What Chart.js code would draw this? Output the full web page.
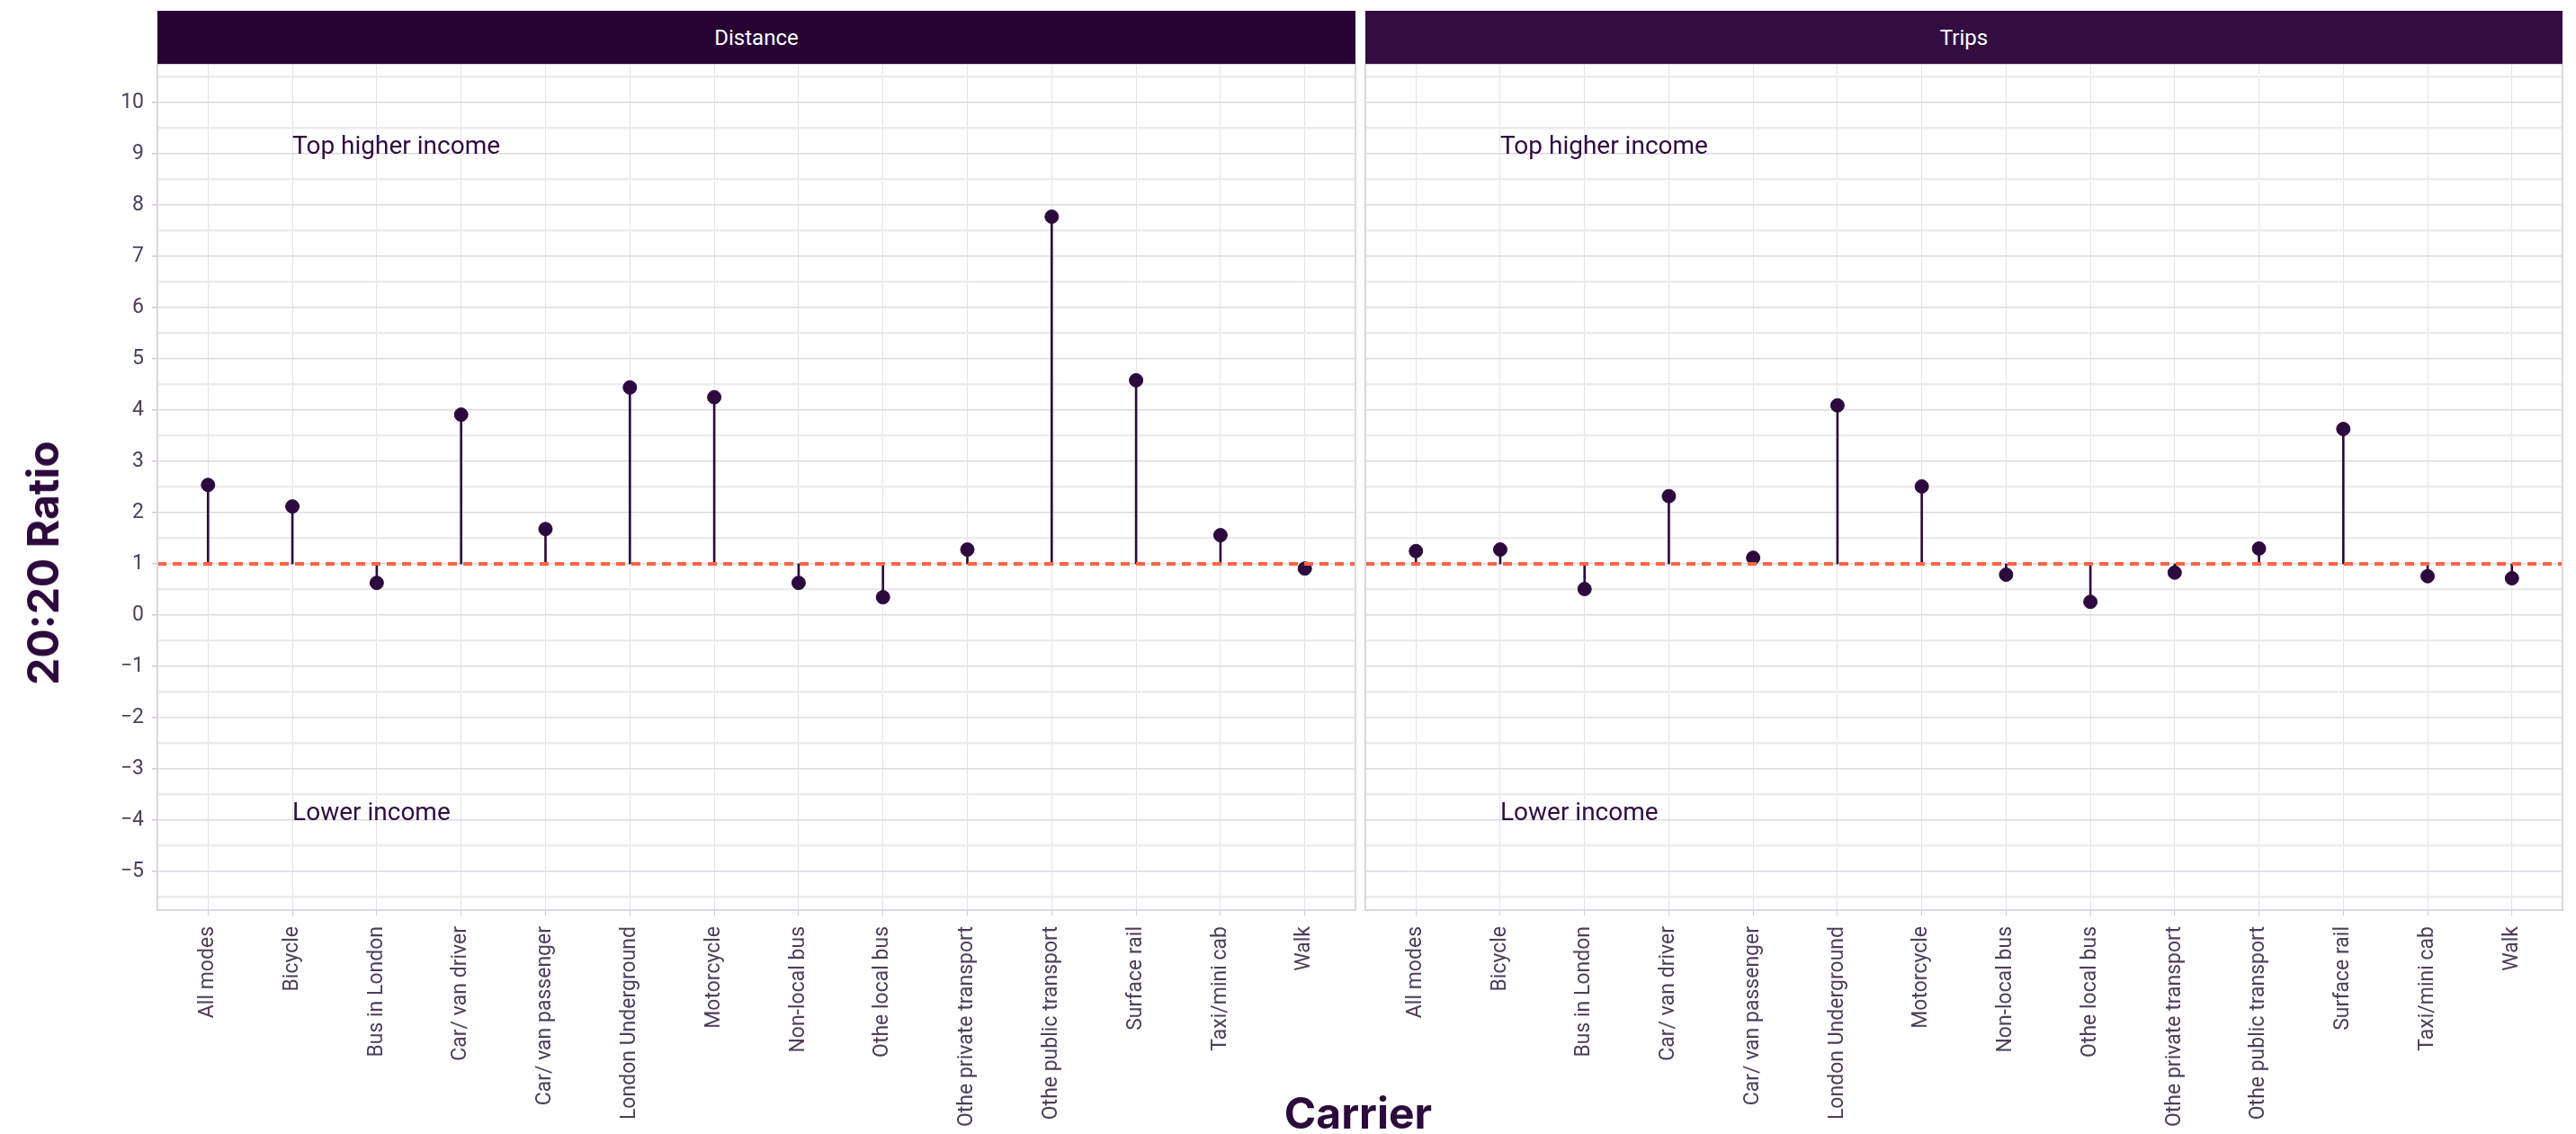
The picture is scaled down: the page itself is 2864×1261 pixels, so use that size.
<!DOCTYPE html>
<html>
<head>
<meta charset="utf-8">
<script src="https://cdn.jsdelivr.net/npm/chart.js@4.4.1/dist/chart.umd.min.js"></script>
<style>
  body { margin: 0; background: #fff; font-family: Roboto, sans-serif; }
  #wrap { position: relative; width: 2864px; height: 1261px; overflow: hidden; }
  canvas { position: absolute; top: 71px; }
  .strip { position: absolute; top: 12px; height: 59px; color: #fff; font: 24px Roboto;
           display: flex; align-items: center; justify-content: center; }
  .axTitle { position: absolute; font: 700 48px Inter, sans-serif; color: #2c0a3c;
             line-height: 1; white-space: nowrap; transform: translate(-50%, -50%); }
</style>
</head>
<body>
<div id="wrap">
  <div class="strip" style="left:175px;width:1332px;background:#270334">Distance</div>
  <div class="strip" style="left:1518px;width:1331px;background:#330d41">Trips</div>
  <canvas id="distChart" width="1512" height="1190" style="left:0"></canvas>
  <canvas id="tripsChart" width="1352" height="1190" style="left:1512px"></canvas>
  <div class="axTitle" style="left:48px;top:626px;transform:translate(-50%,-50%) rotate(-90deg)">20:20 Ratio</div>
  <div class="axTitle" style="left:1510px;top:1238px">Carrier</div>
</div>
<script>
const carriers = ['All modes', 'Bicycle', 'Bus in London', 'Car/ van driver', 'Car/ van passenger',
  'London Underground', 'Motorcycle', 'Non-local bus', 'Othe local bus', 'Othe private transport',
  'Othe public transport', 'Surface rail', 'Taxi/mini cab', 'Walk'];
const distance = [2.54, 2.12, 0.63, 3.91, 1.68, 4.44, 4.25, 0.63, 0.35, 1.28, 7.77, 4.58, 1.56, 0.91];
const trips = [1.25, 1.28, 0.51, 2.32, 1.12, 4.09, 2.51, 0.79, 0.26, 0.83, 1.30, 3.63, 0.76, 0.72];
const yTicks = [-5, -4, -3, -2, -1, 0, 1, 2, 3, 4, 5, 6, 7, 8, 9, 10];
const refValue = 1;
const notes = ['Top higher income', 'Lower income'];
const noteY = [9, -4];
const noteAt = 1; // left edge of the notes sits on the "Bicycle" category

const dark = '#2d0a3e';

// box, dashed reference line and the two notes
const panelDeco = {
  id: 'panelDeco',
  afterDatasetsDraw(chart) {
    const { ctx, chartArea: a, scales } = chart;
    const y1 = scales.y.getPixelForValue(refValue);
    ctx.save();
    ctx.strokeStyle = '#ff6445';
    ctx.lineWidth = 4;
    ctx.setLineDash([10, 7]);
    ctx.beginPath();
    ctx.moveTo(a.left, y1);
    ctx.lineTo(a.right, y1);
    ctx.stroke();
    ctx.setLineDash([]);
    ctx.fillStyle = '#2f0c40';
    ctx.font = '28px Roboto';
    ctx.textAlign = 'left';
    ctx.textBaseline = 'alphabetic';
    notes.forEach((t, i) => {
      ctx.fillText(t, scales.x.getPixelForValue(noteAt), scales.y.getPixelForValue(noteY[i]));
    });
    ctx.strokeStyle = '#dcd7df';
    ctx.lineWidth = 2;
    ctx.strokeRect(a.left, a.top, a.right - a.left, a.bottom - a.top);
    ctx.restore();
  }
};

function makePanel(id, values, showY, padRight, yWidth) {
  new Chart(document.getElementById(id), {
    type: 'bar',
    data: {
      datasets: [{
        type: 'scatter',
        data: values.map((v, i) => ({ x: i, y: v })),
        backgroundColor: dark,
        borderColor: dark,
        pointRadius: 7.5,
        order: 0
      }, {
        type: 'bar',
        data: values.map((v, i) => ({ x: i, y: [refValue, v] })),
        backgroundColor: dark,
        barThickness: 2,
        order: 1
      }]
    },
    plugins: [panelDeco],
    options: {
      responsive: false,
      devicePixelRatio: 1,
      animation: false,
      layout: { autoPadding: false, padding: { left: 0, right: padRight, top: 0, bottom: 0 } },
      plugins: { legend: { display: false }, tooltip: { enabled: false } },
      scales: {
        x: {
          type: 'linear',
          offset: false,
          min: -0.6,
          max: carriers.length - 1 + 0.6,
          afterBuildTicks: s => { s.ticks = carriers.map((c, i) => ({ value: i })); },
          afterFit: s => { s.height = 249; s.paddingLeft = 0; s.paddingRight = 0; },
          grid: { offset: false, color: '#e5e2e8', lineWidth: 1, tickLength: 6, tickColor: '#cfc9d3' },
          border: { display: false },
          ticks: {
            autoSkip: false, maxRotation: 90, minRotation: 90, padding: 12,
            color: '#4e3d5a', font: { size: 23, family: 'Roboto' },
            callback: v => carriers[v]
          }
        },
        y: {
          min: -5.75,
          max: 10.75,
          afterBuildTicks: s => {
            s.ticks = yTicks.flatMap(v => [v - 0.5, v]).concat([yTicks[yTicks.length - 1] + 0.5])
              .map(v => ({ value: v }));
          },
          afterFit: s => { s.width = yWidth; s.paddingTop = 0; s.paddingBottom = 0; },
          grid: {
            color: c => Number.isInteger(c.tick.value) ? '#dedae2' : '#eeebf0',
            lineWidth: c => Number.isInteger(c.tick.value) ? 1.5 : 2.5,
            drawTicks: showY,
            tickLength: 6,
            tickColor: c => Number.isInteger(c.tick.value) ? '#cfc9d3' : 'rgba(0,0,0,0)'
          },
          border: { display: false },
          ticks: {
            display: showY,
            autoSkip: false,
            padding: 9,
            color: '#4e3d5a',
            font: { size: 23, family: 'Roboto' },
            callback: v => Number.isInteger(v) ? (v < 0 ? '\u2212' + Math.abs(v) : String(v)) : ''
          }
        }
      }
    }
  });
}

makePanel('distChart', distance, true, 5, 175);
makePanel('tripsChart', trips, false, 15, 6);
</script>
</body>
</html>
